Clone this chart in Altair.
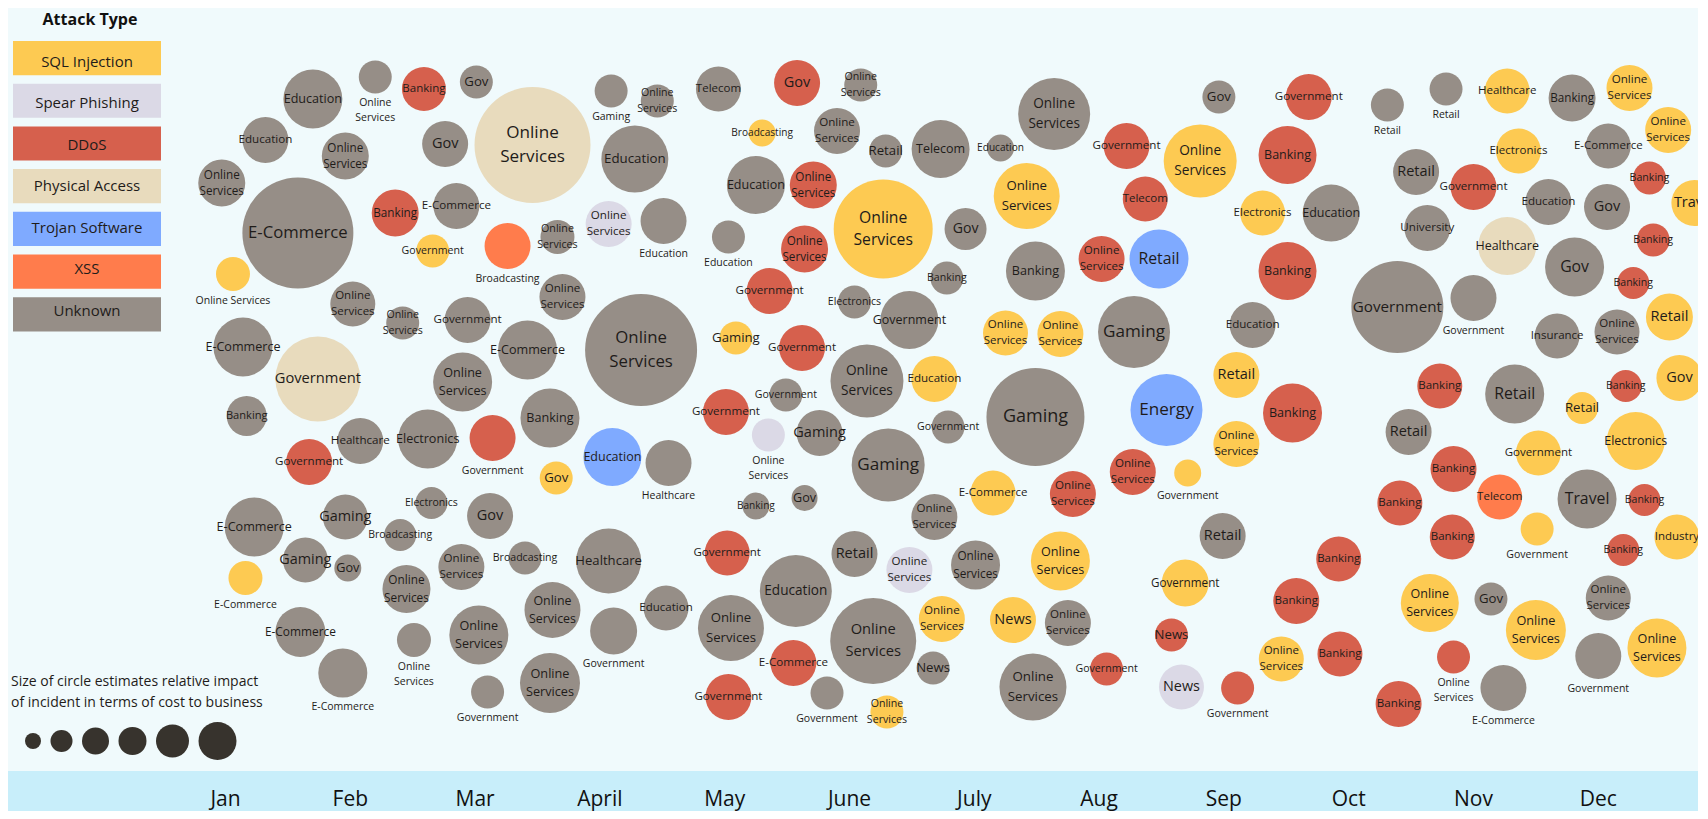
import altair as alt
import pandas as pd

# ---------------- categories / colours ----------------
attack_types = ["SQL Injection", "Spear Phishing", "DDoS", "Physical Access",
                "Trojan Software", "XSS", "Unknown"]
attack_colors = ["#fdca52", "#dbd9e6", "#d6604d", "#e8dbbd", "#7faaff", "#ff7c4c", "#968e87"]
attack_code = {"S": "SQL Injection", "P": "Spear Phishing", "D": "DDoS", "A": "Physical Access",
               "T": "Trojan Software", "X": "XSS", "U": "Unknown"}

month_names = ["Jan", "Feb", "Mar", "April", "May", "June", "July", "Aug", "Sep", "Oct", "Nov", "Dec"]
month_index = list(range(1, 13))

# ---------------- incidents (month position, vertical slot, circle size in px, attack, sector) ----------------
month_pos = [
    1.70, 2.20, 2.59, 3.01, 3.46, 1.32, 1.96, 0.97, 1.58, 2.36, 2.85, 2.66, 3.26, 3.66, 1.06, 2.76,
    4.09, 4.46, 4.28, 4.07, 4.51, 4.95, 5.58, 6.09, 5.30, 5.90, 6.29, 6.73, 5.25, 5.71, 5.03, 5.64, 6.27, 6.93, 6.78, 5.36, 6.04,
    4.33, 5.09, 5.62, 6.48, 6.14, 6.68, 5.49, 5.01, 5.35, 5.76, 6.79, 6.31, 4.10, 4.55, 5.25, 5.64, 6.68, 7.15,
    4.07, 4.11, 4.53, 5.02, 5.05, 5.03, 5.57, 5.55, 5.82, 6.04, 6.48, 6.19, 6.74, 6.67, 6.30, 7.01,
    7.64, 7.21, 7.42, 7.49, 8.22, 8.37, 8.02, 8.48, 8.96, 8.81,
    9.68, 9.51, 9.31, 9.86, 9.51, 8.28, 9.23, 7.25, 7.69, 7.49,
    8.54, 9.10, 9.55, 9.10, 8.27, 8.71, 7.79, 8.99, 7.69, 9.92,
    7.31, 7.75, 7.47, 8.06, 8.69, 8.58, 8.66, 9.11, 9.46, 9.58,
    9.93,
    10.31, 10.78, 10.54, 11.00, 10.63, 11.27, 11.36, 11.27, 11.60, 11.79,
    12.08, 12.07, 11.81, 12.25, 12.56, 12.41, 12.44, 12.28, 12.77, 10.39,
    11.00, 12.57, 11.67, 12.15, 12.65, 10.73, 11.33, 12.22, 11.87, 12.30,
    10.48, 11.52, 10.84, 11.21, 11.91, 12.37, 10.41, 11.51, 10.83, 12.63,
    12.20, 10.65, 11.14, 11.50, 12.08, 12.47, 12.00, 10.84, 11.24, 10.40,
    2.02, 2.42, 2.94, 3.70, 1.14, 1.74, 3.42, 2.90, 1.17, 3.60,
    2.08, 2.62, 3.14, 1.67, 3.65, 2.65, 3.12, 1.23, 1.96, 2.40,
    1.64, 1.98, 1.16, 1.60, 1.94, 2.45, 2.89, 3.40, 2.51, 3.03,
    3.10, 3.62, 3.60,
]
slot = [
    67.2, 69.4, 68.2, 68.9, 62.6, 63.1, 61.5, 58.8, 53.8, 55.8, 56.5, 52.0, 52.5, 53.4, 49.7, 62.7,
    68.0, 67.0, 61.2, 54.7, 55.0, 68.2, 68.8, 68.6, 63.8, 64.0, 62.0, 62.2, 58.6, 58.6, 53.4, 52.2, 54.2, 54.2, 49.3, 48.0, 46.9,
    42.1, 43.3, 42.3, 45.1, 39.0, 39.2, 37.6, 35.9, 33.6, 33.8, 34.4, 30.6, 31.4, 30.8, 26.5, 27.3, 25.4, 27.8,
    21.0, 14.0, 16.3, 21.8, 14.3, 7.4, 18.0, 10.8, 7.8, 21.7, 20.1, 13.0, 15.2, 10.3, 5.9, 20.6,
    65.7, 62.3, 57.5, 50.0, 62.5, 57.2, 51.2, 51.2, 67.4, 61.0,
    67.4, 61.6, 55.8, 55.8, 50.0, 43.9, 44.6, 43.8, 43.7, 35.4,
    36.1, 39.6, 35.8, 32.7, 29.9, 29.8, 27.7, 23.5, 21.0, 21.2,
    15.1, 14.8, 8.4, 10.2, 18.8, 13.6, 8.4, 8.3, 11.2, 17.0,
    11.7,
    66.6, 68.2, 59.9, 58.4, 54.3, 68.0, 62.0, 52.5, 56.9, 67.3,
    62.5, 56.4, 50.4, 68.3, 64.1, 59.3, 53.1, 48.8, 56.8, 46.4,
    47.3, 45.4, 43.5, 43.9, 39.3, 38.5, 37.7, 38.5, 36.3, 33.0,
    33.9, 31.8, 30.2, 27.4, 27.2, 27.1, 26.8, 24.2, 23.4, 23.4,
    22.1, 16.8, 17.2, 14.1, 17.3, 12.3, 11.5, 11.4, 8.3, 6.7,
    46.7, 44.8, 45.1, 47.4, 42.4, 39.2, 42.1, 38.9, 35.5, 35.3,
    33.0, 33.2, 33.3, 30.9, 29.3, 26.8, 25.5, 24.4, 25.4, 23.6,
    21.1, 20.3, 19.3, 13.9, 9.8, 18.2, 20.4, 21.3, 13.1, 13.6,
    7.9, 16.1, 8.8,
]
impact = [
    59, 33, 44, 33, 116, 46, 47, 47, 111, 47, 46, 33, 46, 34, 34, 46,
    33, 33, 67, 46, 46, 45, 46, 33, 27, 46, 33, 58, 58, 47, 33, 47, 99, 42, 33, 46, 33,
    112, 33, 46, 58, 73, 46, 33, 46, 33, 46, 33, 73, 58, 46, 27, 26, 46, 45,
    65, 47, 45, 45, 66, 46, 72, 46, 33, 46, 46, 86, 46, 33, 33, 49,
    72, 27, 66, 59, 46, 45, 46, 59, 33, 73,
    46, 58, 45, 57, 58, 72, 46, 45, 46, 98,
    72, 46, 59, 46, 46, 27, 46, 46, 59, 45,
    46, 46, 67, 33, 47, 33, 45, 33, 45, 46,
    45,
    33, 33, 46, 46, 46, 45, 45, 58, 46, 47,
    45, 46, 59, 46, 46, 33, 33, 32, 46, 92,
    46, 47, 45, 45, 46, 45, 59, 32, 32, 58,
    46, 45, 46, 45, 59, 32, 45, 33, 45, 45,
    32, 58, 33, 60, 45, 59, 46, 33, 46, 46,
    45, 33, 46, 46, 59, 85, 59, 59, 40, 59,
    46, 59, 46, 46, 33, 32, 46, 59, 45, 32,
    45, 27, 34, 50, 49, 48, 46, 33, 34, 59,
    33, 56, 60,
]
attack = list(
    "UUDUAUUUUDUSXUSU"
    "UUUPUUDUSUUUUDUDSUUDU"
    "USDUUSUDPUUUTUUUUS"
    "UUUDUDUDUUPUSUSU"
    "UUSUDDDTUS" "DDSUDUUSSU" "TSDSDSDUSD" "SUUDSDPDSD" "D"
    "UUUDUSSAUU" "UUUSSDDDSU" "USUUSDUDSS" "USDXUDDSDS" "DSUSUSUDUD"
    "UUUUUAUUUU" "UUDDSUUUUU" "UUSUUUUUUU" "UUU"
)
sector = [
    "Education", "Online|Services", "Banking", "Gov", "Online|Services", "Education", "Online|Services",
    "Online|Services", "E-Commerce", "Banking", "E-Commerce", "Government", "Broadcasting", "Online|Services",
    "Online Services", "Gov",
    "Gaming", "Online|Services", "Education", "Online|Services", "Education", "Telecom", "Gov", "Online|Services",
    "Broadcasting", "Online|Services", "Retail", "Telecom", "Education", "Online|Services", "Education",
    "Online|Services", "Online|Services", "Gov", "Banking", "Government", "Electronics",
    "Online|Services", "Gaming", "Government", "Government", "Online|Services", "Education", "Government",
    "Government", "Online|Services", "Gaming", "Government", "Gaming", "Education", "Healthcare", "Banking", "Gov",
    "Online|Services", "E-Commerce",
    "Healthcare", "Government", "Education", "Government", "Online|Services", "Government", "Education",
    "E-Commerce", "Government", "Retail", "Online|Services", "Online|Services", "Online|Services", "News",
    "Online|Services", "Online|Services",
    "Online|Services", "Education", "Online|Services", "Banking", "Government", "Telecom", "Online|Services",
    "Retail", "Gov", "Online|Services",
    "Government", "Banking", "Electronics", "Education", "Banking", "Gaming", "Education", "Online|Services",
    "Online|Services", "Gaming",
    "Energy", "Retail", "Banking", "Online|Services", "Online|Services", "Government", "Online|Services",
    "Retail", "Online|Services", "Banking",
    "News", "Online|Services", "Online|Services", "Government", "Government", "News", "News", "Government",
    "Online|Services", "Banking",
    "Banking",
    "Retail", "Retail", "Retail", "Government", "University", "Healthcare", "Electronics", "Healthcare",
    "Education", "Banking",
    "E-Commerce", "Gov", "Gov", "Online|Services", "Online|Services", "Banking", "Banking", "Banking", "Travel",
    "Government",
    "Government", "Retail", "Insurance", "Online|Services", "Gov", "Banking", "Retail", "Banking", "Retail",
    "Electronics",
    "Retail", "Government", "Banking", "Telecom", "Travel", "Banking", "Banking", "Government", "Banking",
    "Industry",
    "Banking", "Online|Services", "Gov", "Online|Services", "Online|Services", "Online|Services", "Government",
    "Online|Services", "E-Commerce", "Banking",
    "Online|Services", "Online|Services", "Government", "Online|Services", "E-Commerce", "Government",
    "E-Commerce", "Online|Services", "Banking", "Banking",
    "Healthcare", "Electronics", "Government", "Government", "Gov", "Electronics", "Gov", "E-Commerce", "Gaming",
    "Broadcasting",
    "Gaming", "Gov", "E-Commerce", "E-Commerce", "E-Commerce", "Online|Services", "Online|Services",
    "Broadcasting", "Online|Services", "Online|Services",
    "Government", "Online|Services", "Online|Services",
]
label_below = [int(c) for c in (
    "0100000000001010"
    "100010000000001000000"
    "000000001000010000"
    "0100000010000000"
    "0000000000" "0000000000" "0000010000" "0000000100" "0"
    "1100000000" "0000000000" "1000000000" "0000000100" "0000001110"
    "0000000000" "0010000000" "0010100010" "100"
)]

size_legend_px = [16, 22, 27, 28, 33, 38]

n = len(month_pos)
for arr in (slot, impact, attack, sector, label_below):
    assert len(arr) == n, (len(arr), n)

# ---------------- layout ----------------
W, H = 1690, 803
X_DOMAIN = [-0.7428, 12.799]
Y_DOMAIN = [-4.0, 76.3]
FONT = "Open Sans"
INK = "#1f1c1a"

bubbles = pd.DataFrame({
    "x": month_pos, "y": slot, "d": impact,
    "type": [attack_code[c] for c in attack], "sector": [s.replace("|", " ") for s in sector],
})


def label_size(d, text, below):
    if below:
        return 10.5
    fs = max(10.0, 10.6 + (d - 33) * 0.078)
    if len(text) <= 6 and "|" not in text:
        fs = min(fs * 1.25, 18.0)
    return round(fs, 1)


rows = []
for x, y, d, s, b in zip(month_pos, slot, impact, sector, label_below):
    lines = s.split("|")
    fs = label_size(d, s, b)
    lh = 1.45 * fs
    k = len(lines)
    cy = y - (d / 2 + 2 + k * lh / 2) / 10.0 if b else y
    for i, line in enumerate(lines):
        rows.append({"lx": x, "ly": cy + ((k - 1) / 2 - i) * lh / 10.0, "t": line, "fs": fs})
labels = pd.DataFrame(rows)

months = pd.DataFrame({"m": month_index, "name": month_names})

xs = alt.Scale(domain=X_DOMAIN, range=[0, W], nice=False, zero=False)
ys = alt.Scale(domain=Y_DOMAIN, range=[H, 0], nice=False, zero=False)
size_scale = alt.Scale(type="pow", exponent=2, domain=[0, 100], range=[0, 10000])
color_scale = alt.Scale(domain=attack_types, range=attack_colors)
one = pd.DataFrame({"k": [0]})

band = alt.Chart(one).mark_rect(color="#c8eefa").encode(
    x=alt.value(0), x2=alt.value(W), y=alt.value(763), y2=alt.value(H))

month_text = alt.Chart(months).mark_text(font=FONT, fontSize=21, color="#111111", baseline="middle").encode(
    x=alt.X("m:Q", scale=xs, axis=None), y=alt.value(792), text="name:N")

circles = alt.Chart(bubbles).mark_circle(opacity=1).encode(
    x=alt.X("x:Q", scale=xs, axis=None),
    y=alt.Y("y:Q", scale=ys, axis=None),
    size=alt.Size("d:Q", scale=size_scale, legend=None),
    color=alt.Color("type:N", scale=color_scale, legend=None),
    tooltip=["sector:N", "type:N"],
)

circle_labels = alt.Chart(labels).mark_text(font=FONT, color=INK, baseline="middle", align="center").encode(
    x=alt.X("lx:Q", scale=xs, axis=None),
    y=alt.Y("ly:Q", scale=ys, axis=None),
    text="t:N",
    size=alt.Size("fs:Q", scale=None),
)

legend_df = pd.DataFrame({"type": attack_types})
legend_y = alt.Y("type:N", sort=attack_types, axis=None,
                 scale=alt.Scale(domain=attack_types, range=[33, 323.4], paddingInner=0.2, paddingOuter=0))
legend_boxes = alt.Chart(legend_df).mark_rect().encode(
    x=alt.value(5), x2=alt.value(153), y=legend_y,
    color=alt.Color("type:N", scale=color_scale, legend=None))
legend_text = alt.Chart(legend_df).mark_text(font=FONT, fontSize=15, color=INK, baseline="middle").encode(
    x=alt.value(79), y=legend_y, text="type:N")
legend_title = alt.Chart(one).mark_text(font=FONT, fontSize=16, fontWeight="bold", color="#111111",
                                        baseline="middle").encode(
    x=alt.value(82), y=alt.value(12), text=alt.value("Attack Type"))

size_note = alt.Chart(one).mark_text(font=FONT, fontSize=14, color=INK, align="left", baseline="middle",
                                     lineBreak="\n", lineHeight=21).encode(
    x=alt.value(3), y=alt.value(674),
    text=alt.value("Size of circle estimates relative impact\nof incident in terms of cost to business"))

pos, cur = [], 25.0
for i, dd in enumerate(size_legend_px):
    if i > 0:
        cur += size_legend_px[i - 1] / 2 + 9.5 + dd / 2
    pos.append(cur)
size_df = pd.DataFrame({"px": pos, "d": size_legend_px})
size_dots = alt.Chart(size_df).mark_circle(opacity=1, color="#37332d").encode(
    x=alt.X("px:Q", scale=None), y=alt.value(733),
    size=alt.Size("d:Q", scale=size_scale, legend=None))

chart = alt.layer(
    band, month_text, circles, circle_labels, legend_boxes, legend_text, legend_title, size_note, size_dots
).resolve_scale(
    x="independent", y="independent", size="independent", color="independent"
).properties(
    width=W, height=H, autosize="none", padding=0, background="#f0fafc"
).configure_view(stroke=None)

chart.save("out.html", embed_options={"renderer": "svg", "actions": False})
